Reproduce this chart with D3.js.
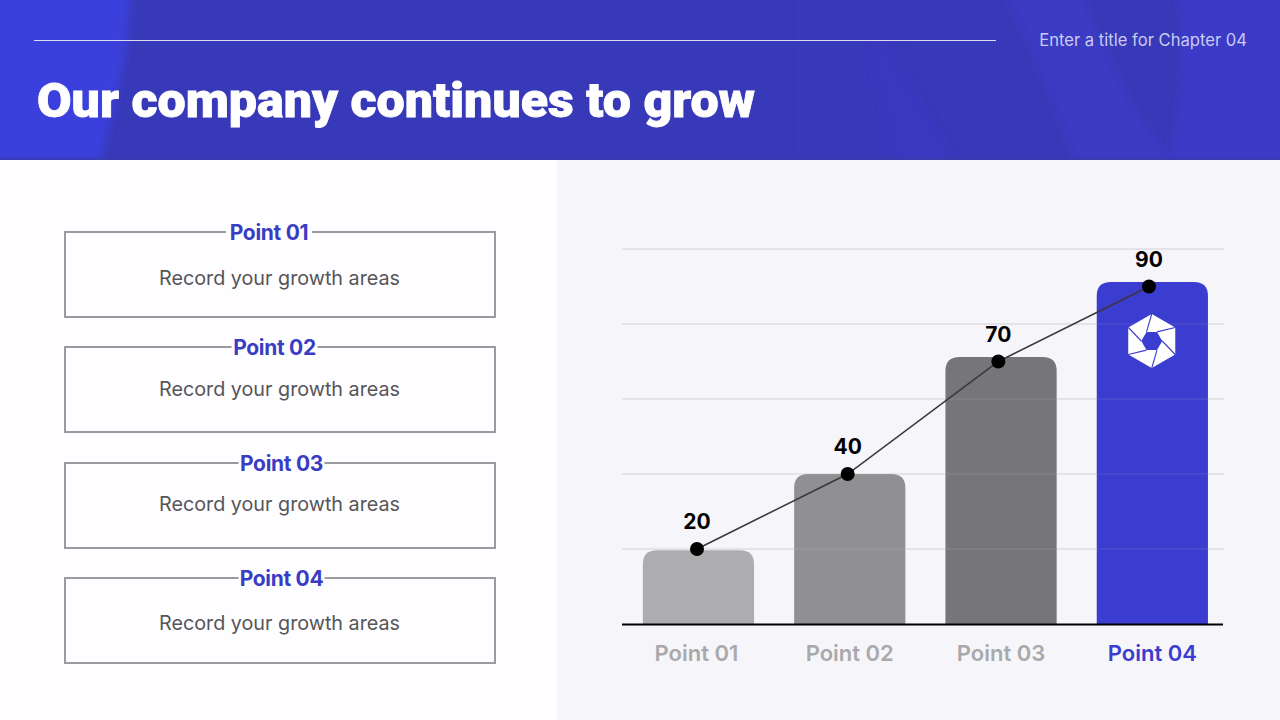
<!DOCTYPE html>
<html>
<head>
<meta charset="utf-8">
<script src="https://cdn.jsdelivr.net/npm/d3@7"></script>
<style>
html,body{margin:0;padding:0;background:#fff;overflow:hidden}
svg{display:block}
text{font-family:Inter,sans-serif}
</style>
</head>
<body>
<svg id="slide" width="1280" height="720"></svg>
<script>
// chart data
const categories = ['Point 01', 'Point 02', 'Point 03', 'Point 04'];
const lineValues = [20, 40, 70, 90];
const barHeights = [19.7, 40, 71.2, 91.2]; // bars sit a bit above the dots on the last two
const gridTicks = [20, 40, 60, 80, 100];
const barColors = ['#adacaf', '#908f92', '#767578', '#3a3dcf'];
const tickColors = ['#a9a9ac', '#a9a9ac', '#a9a9ac', '#3a3dcf'];

const boxTitles = ['Point 01', 'Point 02', 'Point 03', 'Point 04'];
const boxText = 'Record your growth areas';
const boxTops = [232, 347, 463, 578];
const titleX = [269, 274.5, 281.5, 281.5];
const textY = [279, 390, 505, 624];

const svg = d3.select('#slide');
const defs = svg.append('defs');

defs.append('filter').attr('id', 'soft').append('feGaussianBlur').attr('stdDeviation', 4);
defs.append('clipPath').attr('id', 'headClip').append('rect').attr('width', 1280).attr('height', 160);

svg.append('rect').attr('width', 1280).attr('height', 720).attr('fill', '#fefdff');
svg.append('rect').attr('x', 557).attr('y', 160).attr('width', 723).attr('height', 560).attr('fill', '#f6f5f9');

// header background, soft leaf shapes on flat blue
const head = svg.append('g').attr('clip-path', 'url(#headClip)');
head.append('rect').attr('width', 1280).attr('height', 160).attr('fill', '#3839b8');
const leaves = [
  'M-20,-20 L128,-20 C135,50 110,110 97,180 L-20,180 Z',
  'M800,-20 L870,-20 C900,60 930,120 960,180 L800,180 Z',
  'M880,40 C910,90 940,130 965,180 L900,180 C890,130 880,90 870,50 Z',
  'M1000,-20 L1075,-20 C1110,60 1130,110 1165,150 L1180,180 L1080,180 C1060,110 1030,50 1000,-20 Z',
  'M1178,-20 L1300,-20 L1300,180 L1160,180 C1185,120 1185,60 1178,-20 Z'
];
const leafColors = ['#3b3fdc', '#3737bb', '#3a39c0', '#3b3bc4', '#3b3bc8'];
head.selectAll('path.leaf').data(leaves).join('path')
  .attr('class', 'leaf').attr('d', d => d)
  .attr('fill', (d, i) => leafColors[i]).attr('filter', 'url(#soft)');
head.append('rect').attr('y', 157).attr('width', 1280).attr('height', 3).attr('fill', '#3b3ca9').attr('opacity', .6);

svg.append('line').attr('x1', 34).attr('x2', 996).attr('y1', 40.5).attr('y2', 40.5)
  .attr('stroke', '#dcdcf4').attr('stroke-width', 1);
svg.append('text').attr('x', 1247).attr('y', 45.5).attr('text-anchor', 'end')
  .attr('font-size', 16.6).attr('fill', '#c9cbf0').text('Enter a title for Chapter 04');
svg.append('text').attr('x', 37).attr('y', 117)
  .style('font-family', 'Roboto, sans-serif').attr('font-weight', 900).attr('font-size', 48)
  .attr('textLength', 718).attr('lengthAdjust', 'spacingAndGlyphs')
  .attr('stroke', '#fff').attr('stroke-width', 0.8)
  .attr('fill', '#fff').text('Our company continues to grow');

// left side boxes
const boxes = svg.selectAll('g.box').data(boxTitles).join('g').attr('class', 'box');
boxes.append('rect').attr('x', 65).attr('y', (d, i) => boxTops[i]).attr('width', 430).attr('height', 85)
  .attr('fill', 'none').attr('stroke', '#9b9a9e').attr('stroke-width', 2);
boxes.append('rect').attr('x', (d, i) => titleX[i] - 43).attr('y', (d, i) => boxTops[i] - 4)
  .attr('width', 86).attr('height', 8).attr('fill', '#fefdff');
boxes.append('text').attr('x', (d, i) => titleX[i]).attr('y', (d, i) => boxTops[i] + 8)
  .attr('text-anchor', 'middle').attr('font-size', 21).attr('font-weight', 700)
  .attr('letter-spacing', -0.3).attr('fill', '#3a3dc4').text(d => d);
boxes.append('text').attr('x', 279.5).attr('y', (d, i) => textY[i] + 6)
  .attr('text-anchor', 'middle').attr('font-size', 19.75).attr('fill', '#565558').text(boxText);

// chart
const y = d3.scaleLinear().domain([0, 100]).range([624, 249]);
const x = d3.scaleBand().domain(categories).range([622.8, 1228]).paddingInner(0.265).paddingOuter(0.1325);
const xPoint = d3.scalePoint().domain(categories).range([697, 1149]);

svg.append('g').selectAll('line').data(gridTicks).join('line')
  .attr('x1', 622).attr('x2', 1224).attr('y1', d => y(d)).attr('y2', d => y(d))
  .attr('stroke', '#dfdee2').attr('stroke-width', 1.5);

// top corners rounded, flat on the axis
function barPath(d, i) {
  const r = 14, x0 = x(categories[i]), x1 = x0 + x.bandwidth(), top = y(d), base = y(0);
  const p = d3.path();
  p.moveTo(x0, base);
  p.lineTo(x0, top + r);
  p.quadraticCurveTo(x0, top, x0 + r, top);
  p.lineTo(x1 - r, top);
  p.quadraticCurveTo(x1, top, x1, top + r);
  p.lineTo(x1, base);
  p.closePath();
  return p.toString();
}
svg.append('g').selectAll('path').data(barHeights).join('path')
  .attr('d', barPath).attr('fill', (d, i) => barColors[i]);

// gridlines show faintly through the bars
svg.append('g').selectAll('line').data(gridTicks).join('line')
  .attr('x1', 622).attr('x2', 1224).attr('y1', d => y(d)).attr('y2', d => y(d))
  .attr('stroke', '#dfdee2').attr('stroke-width', 1).attr('opacity', .15);

// logo on the last bar
const cx = x(categories[3]) + x.bandwidth() / 2 - 0.6, cy = y(0) - 283;
const logo = svg.append('g').attr('transform', `translate(${cx},${cy})`);
const hexPt = (r, k) => [r * Math.sin(k * Math.PI / 3), -r * Math.cos(k * Math.PI / 3)];
logo.append('polygon').attr('fill', '#fff').attr('stroke', '#fff').attr('stroke-width', 2).attr('stroke-linejoin', 'round')
  .attr('points', d3.range(6).map(k => hexPt(26, k).join(',')).join(' '));
logo.append('polygon').attr('fill', '#3a3dcf')
  .attr('points', d3.range(6).map(k => hexPt(10.5, k + 0.5).join(',')).join(' '));
logo.selectAll('path').data(d3.range(6)).join('path')
  .attr('fill', 'none').attr('stroke', '#3a3dcf').attr('stroke-width', 1.1)
  .attr('d', k => {
    const a = hexPt(10.5, k + 0.5), b = hexPt(27, k + 1), c = hexPt(20, k + 0.9);
    return `M${a}Q${c} ${b}`;
  });

svg.append('line').attr('x1', 622).attr('x2', 1223).attr('y1', y(0) + 0.5).attr('y2', y(0) + 0.5)
  .attr('stroke', '#000').attr('stroke-width', 2);

const line = d3.line().x((d, i) => xPoint(categories[i])).y(d => y(d));
svg.append('path').datum(lineValues).attr('d', line).attr('fill', 'none')
  .attr('stroke', '#38373a').attr('stroke-width', 1.5);
svg.append('g').selectAll('circle').data(lineValues).join('circle')
  .attr('cx', (d, i) => xPoint(categories[i])).attr('cy', d => y(d)).attr('r', 7).attr('fill', '#000');
svg.append('g').selectAll('text').data(lineValues).join('text')
  .attr('x', (d, i) => xPoint(categories[i])).attr('y', d => y(d) - 20)
  .attr('text-anchor', 'middle').attr('font-size', 21).attr('font-weight', 700).attr('fill', '#000').text(d => d);

// first label sits a little left of its bar centre
svg.append('g').selectAll('text').data(categories).join('text')
  .attr('x', (d, i) => x(d) + x.bandwidth() / 2 - (i === 0 ? 2 : 0)).attr('y', 660.5)
  .attr('text-anchor', 'middle').attr('font-size', 22).attr('font-weight', 600)
  .attr('fill', (d, i) => tickColors[i]).text(d => d);
</script>
</body>
</html>
